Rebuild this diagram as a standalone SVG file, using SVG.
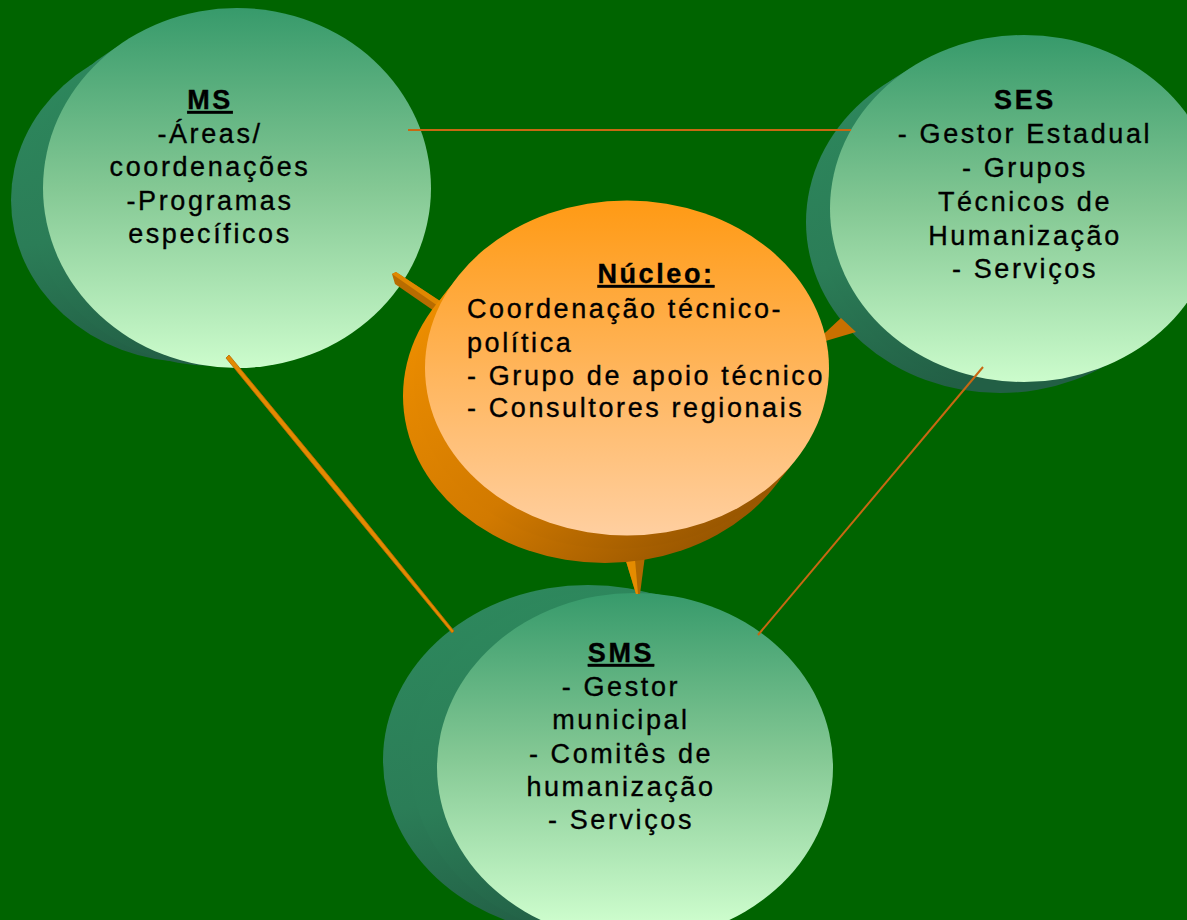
<svg xmlns="http://www.w3.org/2000/svg" width="1187" height="920" viewBox="0 0 1187 920">
  <defs>
    <linearGradient id="gFront" x1="0" y1="0" x2="0" y2="1">
      <stop offset="0" stop-color="#379a6b"/>
      <stop offset="0.5" stop-color="#84c894"/>
      <stop offset="1" stop-color="#ccfccc"/>
    </linearGradient>
    <linearGradient id="gFrontSms" gradientUnits="userSpaceOnUse" x1="0" y1="593" x2="0" y2="920">
      <stop offset="0" stop-color="#379a6b"/>
      <stop offset="0.5" stop-color="#84c894"/>
      <stop offset="1" stop-color="#ccfccc"/>
    </linearGradient>
    <linearGradient id="gBack" x1="0" y1="0" x2="0.3" y2="1">
      <stop offset="0" stop-color="#2e8a5e"/>
      <stop offset="0.6" stop-color="#2b7d57"/>
      <stop offset="1" stop-color="#225f45"/>
    </linearGradient>
    <linearGradient id="oFront" x1="0" y1="0" x2="0" y2="1">
      <stop offset="0" stop-color="#ff9a14"/>
      <stop offset="1" stop-color="#ffcfa0"/>
    </linearGradient>
    <linearGradient id="oBack" x1="0" y1="0.2" x2="0.7" y2="1">
      <stop offset="0" stop-color="#f09000"/>
      <stop offset="0.6" stop-color="#d27a00"/>
      <stop offset="1" stop-color="#985600"/>
    </linearGradient>
    <style>
      text { font-family: "Liberation Sans", Arial, sans-serif; font-size: 27px; fill: #000; stroke: #000; stroke-width: 0.35px; letter-spacing: 2.6px; }
      .c { text-anchor: middle; }
      .t { font-weight: bold; }
      .u { text-decoration: underline; }
      .thin { stroke: #c86812; stroke-width: 2; fill: none; }
      .rod { fill: #e38a00; stroke: #b66a00; stroke-width: 0.8; }
    </style>
  </defs>
  <rect width="1187" height="920" fill="#006400"/>

  <g id="node-ms">
    <ellipse cx="190" cy="200" rx="179" ry="162" fill="url(#gBack)"/>
    <ellipse cx="214" cy="194" rx="186" ry="172" fill="url(#gBack)"/>
    <ellipse cx="237" cy="188" rx="194" ry="180" fill="url(#gFront)"/>
    <text class="c t u" x="210" y="109">MS</text>
    <text class="c" x="210" y="143">-Áreas/</text>
    <text class="c" x="210" y="176">coordenações</text>
    <text class="c" x="210" y="210">-Programas</text>
    <text class="c" x="210" y="243">específicos</text>
  </g>

  <g id="node-ses">
    <ellipse cx="1000" cy="222" rx="194" ry="171" fill="url(#gBack)"/>
    <ellipse cx="1012" cy="215" rx="194" ry="172" fill="url(#gBack)"/>
    <ellipse cx="1024" cy="208.5" rx="194" ry="173.5" fill="url(#gFront)"/>
    <text class="c t" x="1025" y="109">SES</text>
    <text class="c" x="1025" y="143">- Gestor Estadual</text>
    <text class="c" x="1025" y="177">- Grupos</text>
    <text class="c" x="1025" y="211">Técnicos de</text>
    <text class="c" x="1025" y="245">Humanização</text>
    <text class="c" x="1025" y="278">- Serviços</text>
  </g>

  <g id="node-sms">
    <ellipse cx="588" cy="760" rx="205" ry="175" fill="url(#gBack)"/>
    <ellipse cx="612" cy="764" rx="201" ry="174" fill="url(#gBack)"/>
    <ellipse cx="635" cy="767" rx="198" ry="174" fill="url(#gFrontSms)"/>
    <text class="c t u" x="621" y="662">SMS</text>
    <text class="c" x="621" y="696">- Gestor</text>
    <text class="c" x="621" y="729">municipal</text>
    <text class="c" x="621" y="763">- Comitês de</text>
    <text class="c" x="621" y="796">humanização</text>
    <text class="c" x="621" y="829">- Serviços</text>
  </g>

  <g id="connectors">
    <line class="thin" x1="408" y1="130" x2="851" y2="130" stroke-width="1.6"/>
    <line class="thin" x1="983" y1="367" x2="758" y2="635"/>
    <polygon class="rod" points="226,358 229,355 342,492 454,631 452,633 339,496"/>
    <polygon points="392,274 396,272 440,301 437,313 395,284" fill="#b86c00"/>
    <polygon points="392,274 396,272 440,301 438,306" fill="#e08800"/>
    <polygon points="812,345 841,318 856,332" fill="#c87000"/>
    <polygon points="622,548 646,548 640,594 636,594" fill="#b06800"/>
    <polygon points="622,548 634,548 638,594 636,594" fill="#e48c00"/>
  </g>

  <g id="node-nucleo">
    <ellipse cx="605" cy="396" rx="202" ry="167" fill="url(#oBack)"/>
    <ellipse cx="616" cy="382" rx="202" ry="167" fill="url(#oBack)"/>
    <ellipse cx="627" cy="368" rx="202" ry="167.5" fill="url(#oFront)"/>
    <text class="c t u" x="656" y="283">Núcleo:</text>
    <text x="467" y="318">Coordenação técnico-</text>
    <text x="467" y="352">política</text>
    <text x="467" y="385">- Grupo de apoio técnico</text>
    <text x="467" y="417">- Consultores regionais</text>
  </g>
</svg>
